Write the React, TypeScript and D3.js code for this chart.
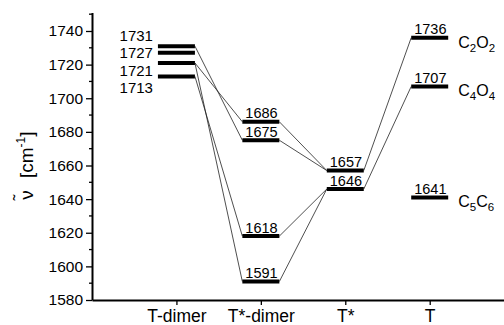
import React, { useEffect, useRef } from "react";
import * as d3 from "d3";

const stages = ["T-dimer", "T*-dimer", "T*", "T"];
const tDimer = [1731, 1727, 1721, 1713];
const tStarDimer = [1686, 1675, 1618, 1591];
const tStar = [1657, 1646];
const tMono = [1736, 1707, 1641];
const tMonoNames = [
  ["C", "2", "O", "2"],
  ["C", "4", "O", "4"],
  ["C", "5", "C", "6"],
];
// [from stage, from value, to stage, to value]
const links = [
  [1, 1731, 2, 1675],
  [1, 1721, 2, 1686],
  [1, 1721, 2, 1591],
  [1, 1713, 2, 1618],
  [2, 1686, 3, 1657],
  [2, 1675, 3, 1657],
  [2, 1618, 3, 1646],
  [2, 1591, 3, 1646],
  [3, 1657, 4, 1736],
  [3, 1646, 4, 1707],
];
const yMajor = [1580, 1600, 1620, 1640, 1660, 1680, 1700, 1720, 1740];
const yMinor = [1590, 1610, 1630, 1650, 1670, 1690, 1710, 1730, 1750];

const W = 504;
const H = 325;
const FONT = "Arial, 'Liberation Sans', sans-serif";

export default function App() {
  const ref = useRef<SVGSVGElement>(null);

  useEffect(() => {
    const svg = d3.select(ref.current);
    svg.selectAll("*").remove();

    const x = d3.scaleLinear().domain([0, 4.88]).range([92, W]);
    const y = d3.scaleLinear().domain([1580, 1751]).range([300, 12.5]);
    const half = 18.5;

    // axes
    const yAxis = svg.append("g").attr("transform", "translate(" + x(0) + ",0)");
    yAxis.call(
      d3.axisLeft(y).tickValues(yMajor).tickSize(6).tickSizeOuter(0).tickPadding(3).tickFormat(d3.format("d"))
    );
    yAxis.selectAll(".tick text").attr("font-size", 15.5);
    yAxis
      .selectAll(".minor")
      .data(yMinor)
      .enter()
      .append("line")
      .attr("class", "minor")
      .attr("x1", -3)
      .attr("x2", 0)
      .attr("y1", (d) => y(d))
      .attr("y2", (d) => y(d))
      .attr("stroke", "black")
      .attr("stroke-width", 1.3);

    const xAxis = svg.append("g").attr("transform", "translate(0," + y(1580) + ")");
    xAxis.call(
      d3
        .axisBottom(x)
        .tickValues([1, 2, 3, 4])
        .tickSize(5)
        .tickSizeOuter(0)
        .tickPadding(5)
        .tickFormat((d: any) => stages[d - 1])
    );
    xAxis.selectAll(".tick text").attr("font-size", 17.5);

    svg.selectAll(".domain").attr("stroke-width", 2);
    svg.selectAll(".tick line").attr("stroke-width", 1.3);
    svg.selectAll(".tick text").attr("font-family", FONT).attr("fill", "black");

    // connecting lines
    svg
      .selectAll(".link")
      .data(links)
      .enter()
      .append("line")
      .attr("class", "link")
      .attr("x1", (d) => x(d[0]) + half)
      .attr("y1", (d) => y(d[1]))
      .attr("x2", (d) => x(d[2]) - half)
      .attr("y2", (d) => y(d[3]))
      .attr("stroke", "#222")
      .attr("stroke-width", 0.8);

    // level bars
    const levels = [tDimer, tStarDimer, tStar, tMono];
    levels.forEach((vals, i) => {
      svg
        .append("g")
        .selectAll("line")
        .data(vals)
        .enter()
        .append("line")
        .attr("x1", x(i + 1) - half)
        .attr("x2", x(i + 1) + half)
        .attr("y1", (d) => y(d))
        .attr("y2", (d) => y(d))
        .attr("stroke", "black")
        .attr("stroke-width", 4);
    });

    // T-dimer labels, stacked to the left of the bars
    const midY = d3.mean(tDimer, (d) => y(d)) as number;
    svg
      .append("g")
      .selectAll("text")
      .data(tDimer)
      .enter()
      .append("text")
      .attr("x", x(1) - half - 5)
      .attr("y", (d, i) => midY + 2 + (i - 1.5) * 17.5)
      .attr("dy", "0.36em")
      .attr("text-anchor", "end")
      .attr("font-size", 15)
      .attr("font-family", FONT)
      .text((d) => d);

    // labels sitting on the bars
    [tStarDimer, tStar, tMono].forEach((vals, k) => {
      svg
        .append("g")
        .selectAll("text")
        .data(vals)
        .enter()
        .append("text")
        .attr("x", x(k + 2) - half + 3)
        .attr("y", (d) => y(d) - 3.5)
        .attr("font-size", 14.5)
        .attr("font-family", FONT)
        .text((d) => d);
    });

    // mode names for T
    const names = svg
      .append("g")
      .selectAll("text")
      .data(tMono)
      .enter()
      .append("text")
      .attr("x", x(4) + half + 10)
      .attr("y", (d) => y(d) + 10)
      .attr("font-size", 16)
      .attr("font-family", FONT);
    names.each(function (d, i) {
      const t = d3.select(this);
      tMonoNames[i].forEach((s, j) => {
        t.append("tspan")
          .attr("font-size", j % 2 ? 11.5 : 16)
          .attr("dy", j === 0 ? 0 : j % 2 ? 4 : -4)
          .text(s);
      });
    });

    // y title: nu with a tilde above, then [cm^-1]
    const tg = svg.append("g").attr("transform", "translate(33,163) rotate(-90)");
    tg.append("text")
      .attr("x", -32)
      .attr("text-anchor", "middle")
      .attr("font-size", 19)
      .attr("font-family", FONT)
      .text("\u03bd");
    tg.append("text")
      .attr("x", -34.5)
      .attr("y", -8)
      .attr("text-anchor", "middle")
      .attr("font-size", 17)
      .attr("font-family", FONT)
      .text("\u02dc");
    const title = tg
      .append("text")
      .attr("x", -15)
      .attr("font-size", 19)
      .attr("font-family", FONT);
    title.append("tspan").text("[cm");
    title.append("tspan").attr("font-size", 12).attr("dy", -8).text("-1");
    title.append("tspan").attr("dy", 8).text("]");
  }, []);

  return (
    <svg
      ref={ref}
      width={W}
      height={H}
      style={{ position: "absolute", left: 0, top: 0, background: "white" }}
    />
  );
}
